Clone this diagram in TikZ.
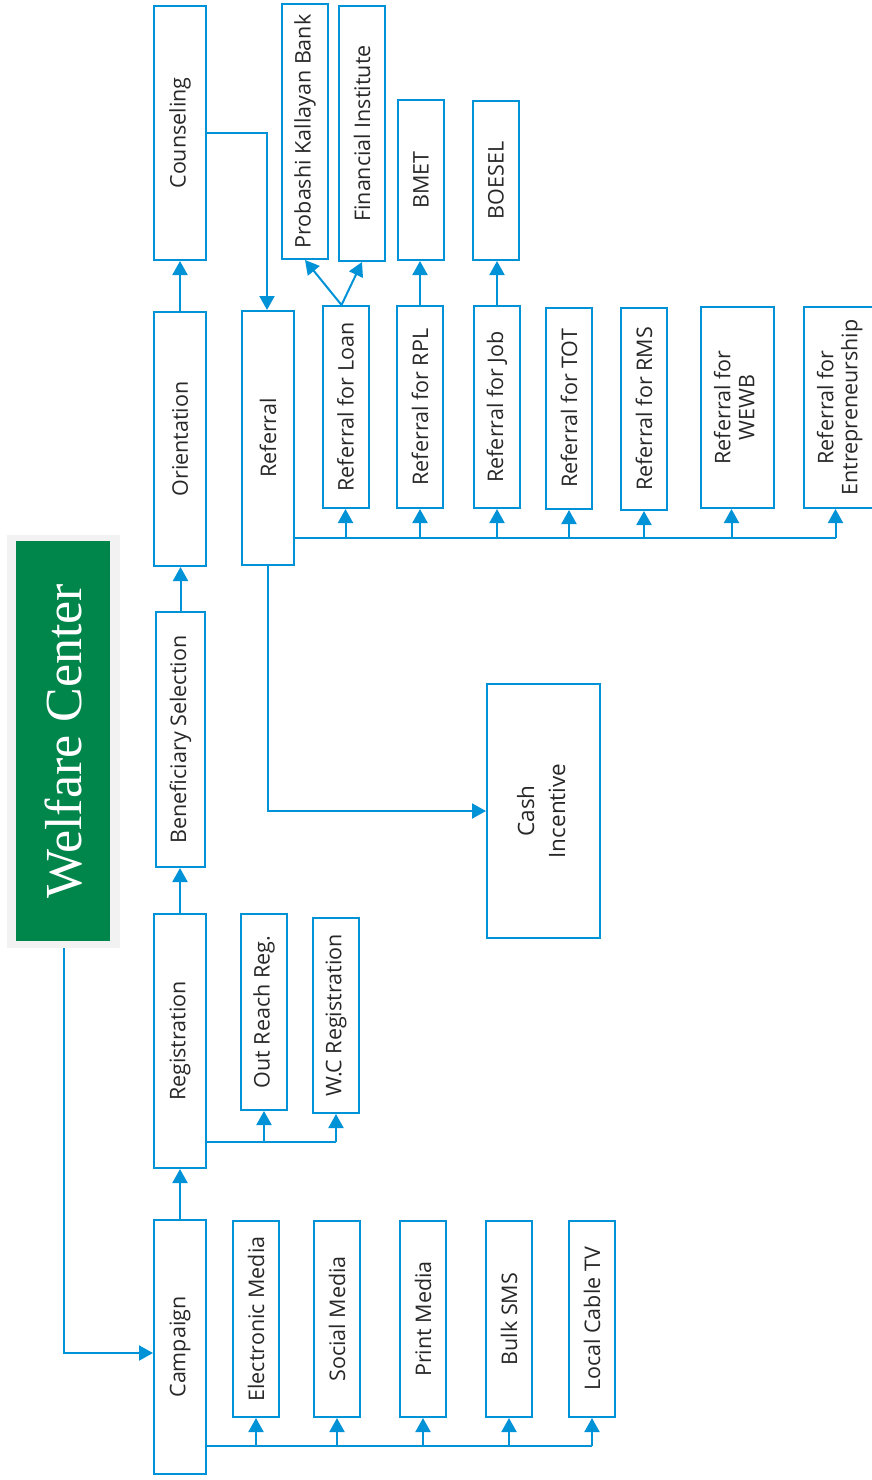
\documentclass[tikz,border=0pt]{standalone}
\usepackage{fontspec}
\setmainfont{Open Sans}
\newfontfamily\wcfont{Liberation Serif}
\usetikzlibrary{arrows.meta,calc}
\definecolor{lblue}{RGB}{0,146,214}
\definecolor{wcgreen}{RGB}{0,133,74}
\definecolor{wcgray}{RGB}{242,242,242}
\definecolor{txt}{RGB}{40,40,40}
\newcommand{\rt}[1]{\rotatebox{90}{#1}}
\newcommand{\rtt}[2]{\rotatebox{90}{\begin{tabular}{@{}c@{}}#1\\#2\end{tabular}}}
\begin{document}
\begin{tikzpicture}[x=1pt,y=-1pt,
  bx/.style={draw=lblue, line width=2pt, fill=white, inner sep=0pt, anchor=north west, text=txt, font=\fontsize{21.5}{24}\selectfont},
  line/.style={draw=lblue, line width=2pt},
  arr/.style={line, -{Triangle[length=14pt,width=15pt]}}]
\useasboundingbox (0,0) rectangle (872,1480);
% Welfare Center
\node[fill=wcgray, minimum width=113pt, minimum height=413pt, anchor=north west, inner sep=0pt] (wcbg) at (7,535) {};
\node[fill=wcgreen, minimum width=94pt, minimum height=400pt, anchor=north west, inner sep=0pt, text=white, font=\wcfont\fontsize{52}{60}\selectfont] (wc) at (16,541) {\rt{Welfare Center}};
% main column
\node[bx, minimum width=52pt, minimum height=254pt] (campaign) at (153,1219) {\rt{Campaign}};
\node[bx, minimum width=52pt, minimum height=254pt] (reg) at (153,913) {\rt{Registration}};
\node[bx, minimum width=49pt, minimum height=255pt] (benef) at (155,611) {\rt{Beneficiary Selection}};
\node[bx, minimum width=52pt, minimum height=254pt] (orient) at (153,311) {\rt{Orientation}};
\node[bx, minimum width=52pt, minimum height=254pt] (couns) at (153,5) {\rt{Counseling}};
\node[bx, minimum width=52pt, minimum height=254pt] (referral) at (241,310) {\rt{Referral}};
\node[bx, minimum width=113pt, minimum height=254pt, font=\fontsize{22.5}{31}\selectfont] (cash) at (486,683) {\rtt{Cash}{Incentive}};
% media
\node[bx, minimum width=46pt, minimum height=196pt] (elec) at (232,1220) {\rt{Electronic Media}};
\node[bx, minimum width=46pt, minimum height=196pt] (social) at (313,1220) {\rt{Social Media}};
\node[bx, minimum width=46pt, minimum height=196pt] (print) at (399,1220) {\rt{Print Media}};
\node[bx, minimum width=46pt, minimum height=196pt] (bulk) at (485,1220) {\rt{Bulk SMS}};
\node[bx, minimum width=46pt, minimum height=196pt] (local) at (568,1220) {\rt{Local Cable TV}};
% registration
\node[bx, minimum width=46pt, minimum height=196pt] (outreach) at (240,913) {\rt{Out Reach Reg.}};
\node[bx, minimum width=46pt, minimum height=195pt] (wcreg) at (312,917) {\rt{W.C Registration}};
% referrals
\node[bx, minimum width=46pt, minimum height=202pt] (loan) at (321.5,305) {\rt{Referral for Loan}};
\node[bx, minimum width=46pt, minimum height=202pt] (rpl) at (396,305) {\rt{Referral for RPL}};
\node[bx, minimum width=46pt, minimum height=202pt] (job) at (473,305) {\rt{Referral for Job}};
\node[bx, minimum width=46pt, minimum height=201pt] (tot) at (545,307) {\rt{Referral for TOT}};
\node[bx, minimum width=46pt, minimum height=202pt] (rms) at (620,307) {\rt{Referral for RMS}};
\node[bx, minimum width=73pt, minimum height=201pt] (wewb) at (700,306) {\rtt{Referral for}{WEWB}};
\node[bx, minimum width=73pt, minimum height=201pt] (entre) at (803,306) {\rtt{Referral for}{Entrepreneurship}};
% top boxes
\node[bx, minimum width=46pt, minimum height=255pt] (pkb) at (281,3) {\rt{Probashi Kallayan Bank}};
\node[bx, minimum width=46pt, minimum height=255pt] (fin) at (338,5) {\rt{Financial Institute}};
\node[bx, minimum width=46pt, minimum height=160pt] (bmet) at (397,99) {\rt{BMET}};
\node[bx, minimum width=46pt, minimum height=159pt] (boesel) at (472,100) {\rt{BOESEL}};
% connectors
\draw[arr] (wcbg.south) |- ([yshift=-6pt]campaign.west);
\draw[arr] (campaign.north) -- (campaign.north |- reg.south);
\coordinate (cbus) at (205,1446);
\draw[line] (cbus) -- (cbus -| local.south);
\foreach \n in {elec,social,print,bulk,local} \draw[arr] (cbus -| \n.south) -- (\n.south);
\coordinate (rbus) at (205,1142);
\draw[line] (rbus) -- (rbus -| wcreg.south);
\draw[arr] (rbus -| outreach.south) -- (outreach.south);
\draw[arr] (rbus -| wcreg.south) -- (wcreg.south);
\draw[arr] (reg.north) -- (reg.north |- benef.south);
\draw[arr] (benef.north) -- (benef.north |- orient.south);
\draw[arr] (orient.north) -- (orient.north |- couns.south);
\draw[arr] (couns.east) -| ([xshift=-1pt]referral.north);
\draw[arr] (referral.south) |- (cash.west);
\coordinate (fbus) at (293,538);
\coordinate (wewbin) at ([xshift=-6pt]wewb.south);
\coordinate (entrein) at ([xshift=-5pt]entre.south);
\draw[line] (fbus) -- (fbus -| entrein);
\foreach \n in {loan,rpl,job,tot,rms} \draw[arr] (fbus -| \n.south) -- (\n.south);
\draw[arr] (fbus -| wewbin) -- (wewbin);
\draw[arr] (fbus -| entrein) -- (entrein);
\coordinate (lt) at ([xshift=-4pt]loan.north);
\draw[arr] (lt) -- (pkb.south);
\draw[arr] (lt) -- (fin.south);
\draw[arr] (rpl.north) -- (rpl.north |- bmet.south);
\draw[arr] (job.north) -- (job.north |- boesel.south);
\end{tikzpicture}
\end{document}
